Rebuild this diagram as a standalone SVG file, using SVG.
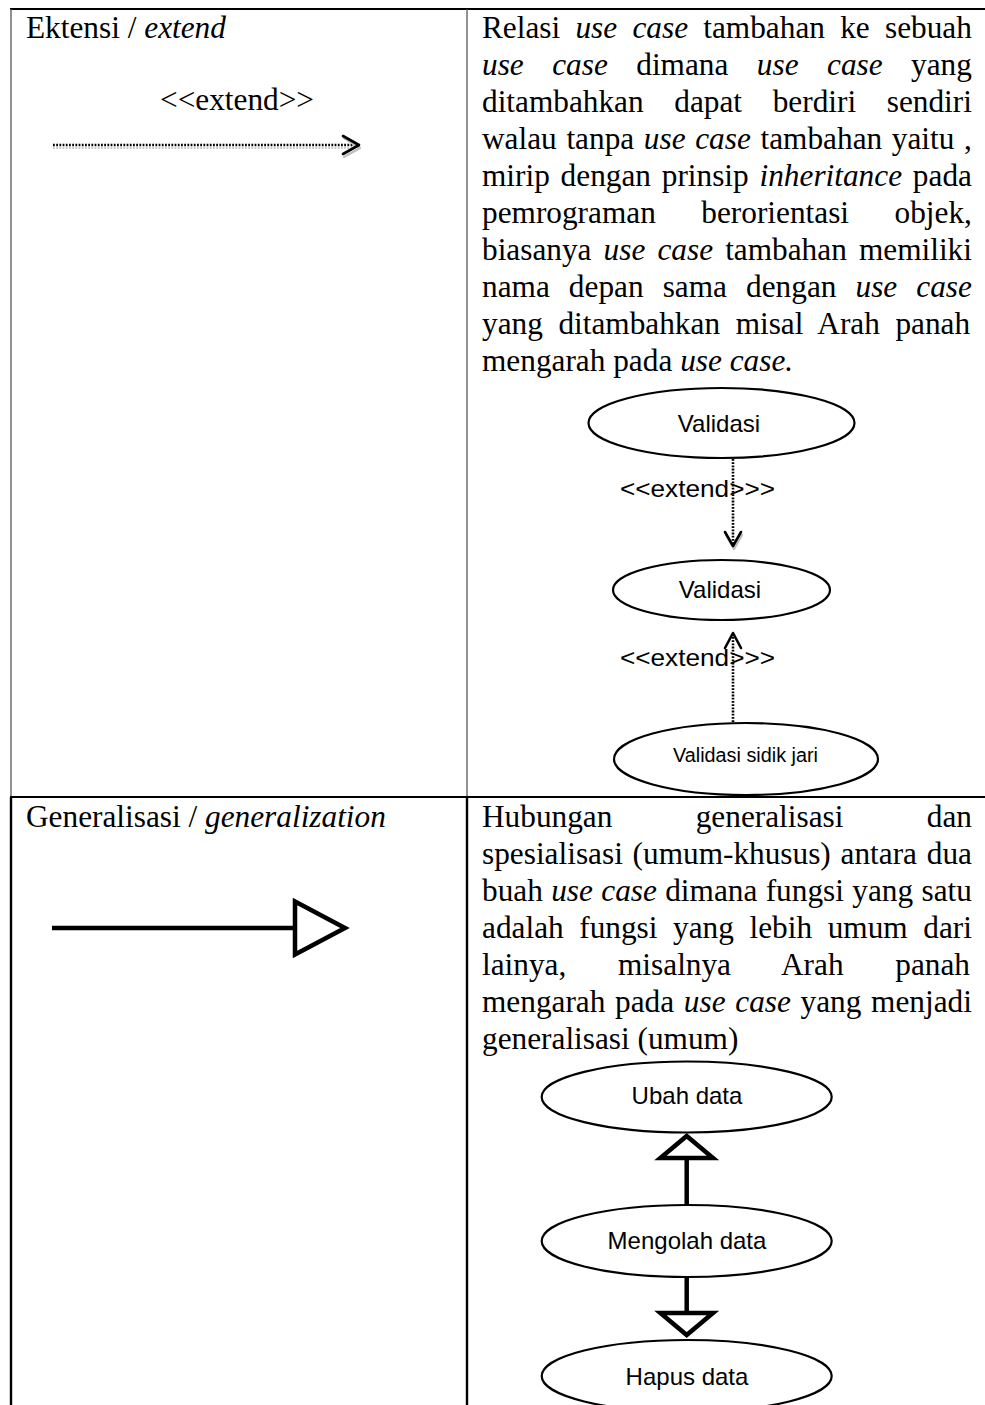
<svg xmlns="http://www.w3.org/2000/svg" width="985" height="1405" viewBox="0 0 985 1405">
<style>
.t{font-family:"Liberation Serif","Times New Roman",serif;font-size:31.3px;fill:#000}
.i{font-style:italic}
.s{font-family:"Liberation Sans",Arial,sans-serif;font-size:24px;fill:#000}
.uc{fill:#fff;stroke:#000;stroke-width:2.2}
.dot{fill:none;stroke:#000;stroke-width:2.6;stroke-dasharray:1.8 1.4}
.dotsh{fill:none;stroke:#c8c8c8;stroke-width:2;stroke-dasharray:1.8 1.4}
.chev{fill:none;stroke:#000;stroke-width:2.6;stroke-linecap:round;stroke-linejoin:round}
.chevsh{fill:none;stroke:#c0c0c0;stroke-width:2.4;stroke-linecap:round;stroke-linejoin:round}
.gen{fill:none;stroke:#000;stroke-width:4.5}
.tri{fill:#fff;stroke:#000;stroke-width:4.5;stroke-linejoin:miter}
</style>
<rect x="0" y="0" width="985" height="1405" fill="#fff"/>
<g id="table">
<line x1="10" y1="9" x2="985" y2="9" stroke="#000" stroke-width="2"/>
<line x1="11" y1="9" x2="11" y2="797" stroke="#555" stroke-width="1.3"/>
<line x1="467" y1="9" x2="467" y2="797" stroke="#555" stroke-width="1.3"/>
<line x1="10" y1="797" x2="985" y2="797" stroke="#000" stroke-width="2.2"/>
<line x1="11" y1="797" x2="11" y2="1405" stroke="#000" stroke-width="2.4"/>
<line x1="467" y1="797" x2="467" y2="1405" stroke="#000" stroke-width="2.4"/>
</g>
<g id="row1-left">
<text class="t" x="26" y="38">Ektensi / <tspan class="i">extend</tspan></text>
<text class="t" x="237" y="110" text-anchor="middle">&lt;&lt;extend&gt;&gt;</text>
</g>
<g id="row1-right">
<text class="t" x="482" y="38" word-spacing="7.41">Relasi <tspan class="i">use case</tspan> tambahan ke sebuah</text>
<text class="t" x="482" y="75" word-spacing="20.63"><tspan class="i">use case</tspan> dimana <tspan class="i">use case</tspan> yang</text>
<text class="t" x="482" y="112" word-spacing="22.8">ditambahkan dapat berdiri sendiri</text>
<text class="t" x="482" y="149" word-spacing="1.84">walau tanpa <tspan class="i">use case</tspan> tambahan yaitu ,</text>
<text class="t" x="482" y="186" word-spacing="2.97">mirip dengan prinsip <tspan class="i">inheritance</tspan> pada</text>
<text class="t" x="482" y="223" word-spacing="37.7">pemrograman berorientasi objek,</text>
<text class="t" x="482" y="260" word-spacing="4.28">biasanya <tspan class="i">use case</tspan> tambahan memiliki</text>
<text class="t" x="482" y="297" word-spacing="11.26">nama depan sama dengan <tspan class="i">use case</tspan></text>
<text class="t" x="482" y="334" word-spacing="7.75">yang ditambahkan misal Arah panah</text>
<text class="t" x="482" y="371">mengarah pada <tspan class="i">use case.</tspan></text>
</g>
<g id="uc-validasi-1">
<ellipse class="uc" cx="721.5" cy="423" rx="133" ry="35"/>
<text class="s" x="719" y="432" text-anchor="middle">Validasi</text>
</g>
<g id="uc-validasi-2">
<ellipse class="uc" cx="721.5" cy="590" rx="108.5" ry="30"/>
<text class="s" x="720" y="598" text-anchor="middle">Validasi</text>
</g>
<g id="uc-sidik-jari">
<ellipse class="uc" cx="746" cy="759" rx="132" ry="36"/>
<text class="s" x="745.5" y="762" text-anchor="middle" style="font-size:19.5px" textLength="145" lengthAdjust="spacingAndGlyphs">Validasi sidik jari</text>
</g>
<g id="row2-left">
<text class="t" x="26" y="827">Generalisasi / <tspan class="i">generalization</tspan></text>
</g>
<g id="row2-right">
<text class="t" x="482" y="827" word-spacing="75.5">Hubungan generalisasi dan</text>
<text class="t" x="482" y="864" word-spacing="1.94">spesialisasi (umum-khusus) antara dua</text>
<text class="t" x="482" y="901" word-spacing="0.52">buah <tspan class="i">use case</tspan> dimana fungsi yang satu</text>
<text class="t" x="482" y="938" word-spacing="7.76">adalah fungsi yang lebih umum dari</text>
<text class="t" x="482" y="975" word-spacing="43.9">lainya, misalnya Arah panah</text>
<text class="t" x="482" y="1012" word-spacing="1.86">mengarah pada <tspan class="i">use case</tspan> yang menjadi</text>
<text class="t" x="482" y="1049">generalisasi (umum)</text>
</g>
<g id="uc-ubah-data">
<ellipse class="uc" cx="686.7" cy="1097" rx="145" ry="35.5"/>
<text class="s" x="687" y="1104" text-anchor="middle">Ubah data</text>
</g>
<g id="uc-mengolah-data">
<ellipse class="uc" cx="686.7" cy="1241" rx="145" ry="36"/>
<text class="s" x="687" y="1249" text-anchor="middle">Mengolah data</text>
</g>
<g id="uc-hapus-data">
<ellipse class="uc" cx="686.7" cy="1376" rx="145" ry="36"/>
<text class="s" x="687" y="1385" text-anchor="middle">Hapus data</text>
</g>
<g id="connectors">
<line class="dotsh" x1="53" y1="148" x2="352" y2="148"/>
<line class="dot" x1="53" y1="145" x2="354" y2="145"/>
<polyline class="chevsh" points="344,138 360,148 344,157"/>
<polyline class="chev" points="343,136 359,145 343,154"/>
<line class="gen" x1="52" y1="928" x2="295" y2="928"/>
<polygon class="tri" points="295,901.5 345,928 295,954.5"/>
<line class="dot" x1="733" y1="459" x2="733" y2="544"/>
<polyline class="chevsh" points="726,535 734,549 742,535"/>
<polyline class="chev" points="725,532 733,546 741,532"/>
<text class="s" x="620" y="497" textLength="155" lengthAdjust="spacingAndGlyphs">&lt;&lt;extend&gt;&gt;&gt;</text>
<line class="dot" x1="733" y1="722" x2="733" y2="635"/>
<polyline class="chev" points="725,648 733,633 741,648"/>
<text class="s" x="620" y="666" textLength="155" lengthAdjust="spacingAndGlyphs">&lt;&lt;extend&gt;&gt;&gt;</text>
<line class="gen" x1="686.7" y1="1158" x2="686.7" y2="1205"/>
<polygon class="tri" points="686.7,1136 713,1158 660.4,1158"/>
<line class="gen" x1="686.7" y1="1277" x2="686.7" y2="1313"/>
<polygon class="tri" points="660.4,1313 713,1313 686.7,1335"/>
</g>
</svg>
